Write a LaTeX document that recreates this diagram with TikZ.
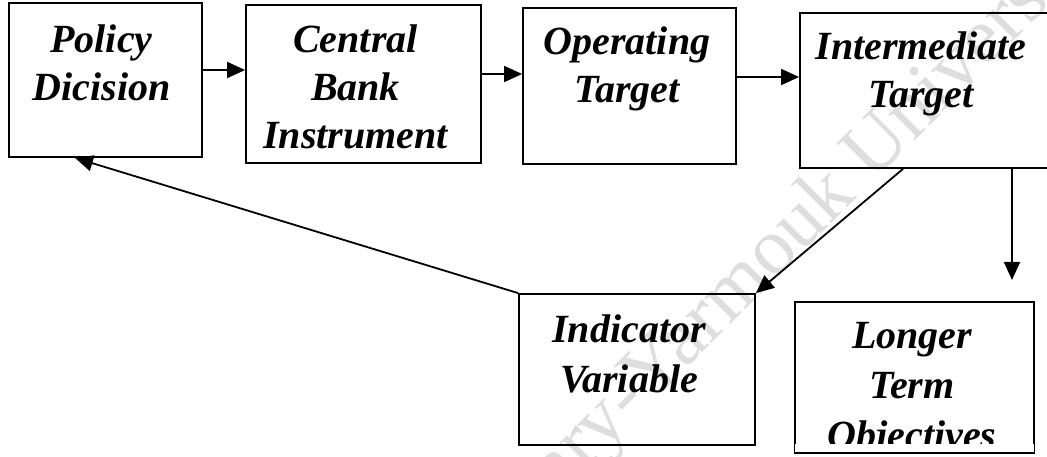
\documentclass[tikz,border=0pt]{standalone}
\usepackage{fontspec}
\setmainfont{Liberation Serif}
\usetikzlibrary{arrows.meta}
% #1 horizontal text shift, #2 raise of first baseline above centre, #3 row stretch, #4 lines
\newcommand\bt[4]{\raisebox{#2}[0pt][0pt]{\makebox[0pt]{\hspace*{#1}\hspace*{#1}\def\arraystretch{#3}\begin{tabular}[t]{@{}c@{}}#4\end{tabular}}}}
\begin{document}
\begin{tikzpicture}[x=1pt,y=-1pt,line width=1.8pt,
  box/.style={draw,inner sep=0pt,font=\fontsize{40}{48}\selectfont\bfseries\itshape},
  conn/.style={-{Triangle[length=18pt,width=16pt]}},
  wmark/.style={text=black!13,font=\fontsize{80}{80}\selectfont\mdseries\upshape}]
\path[fill=white,use as bounding box] (0,0) rectangle (1047,457);
\node[wmark,anchor=base west,rotate=45] (wm) at (647,408) {\llap{Arabic Digital Library-}Yarmouk University};
\node[box,minimum width=193pt,minimum height=154pt] (pd) at (105.5,80) {\bt{-4pt}{27pt}{1}{Policy\\Dicision}};
\node[box,minimum width=235pt,minimum height=158pt] (cb) at (363.5,84) {\bt{-8pt}{31pt}{1}{Central\\Bank\\Instrument}};
\node[box,minimum width=213pt,minimum height=156pt] (ot) at (629.5,86) {\bt{-2.5pt}{31pt}{1}{Operating\\Target}};
\node[box,minimum width=262pt,minimum height=155pt] (it) at (931,90.5) {\bt{-10pt}{30.5pt}{1}{Intermediate\\Target}};
\node[box,minimum width=236pt,minimum height=151pt] (iv) at (637,369.5) {\bt{-8pt}{27.5pt}{1.042}{Indicator\\Variable}};
\node[box,minimum width=239pt,minimum height=150pt] (lt) at (914.5,377) {\bt{-2.5pt}{29pt}{1.042}{Longer\\Term\\Objectives}};
\fill[white] ([xshift=1pt,yshift=9pt]lt.south west) rectangle ([xshift=-1pt,yshift=-6pt]lt.south east);
\draw (lt.south west) -- (lt.south east);
\coordinate (fbtip) at (75,157);
\coordinate (dstart) at (903,168);
\coordinate (vtip) at (1012,280);
\draw[conn] ([yshift=10pt]pd.east) -- ([yshift=10pt]pd.east -| cb.west);
\draw[conn] ([yshift=10pt]cb.east) -- ([yshift=10pt]cb.east -| ot.west);
\draw[conn] ([yshift=9pt]ot.east) -- ([yshift=9pt]ot.east -| it.west);
\draw[conn] (it.south -| vtip) -- (vtip);
\draw[conn] (it.south -| dstart) -- (iv.north east);
\draw[conn] (iv.north west) -- (pd.south -| fbtip);
\end{tikzpicture}
\end{document}
